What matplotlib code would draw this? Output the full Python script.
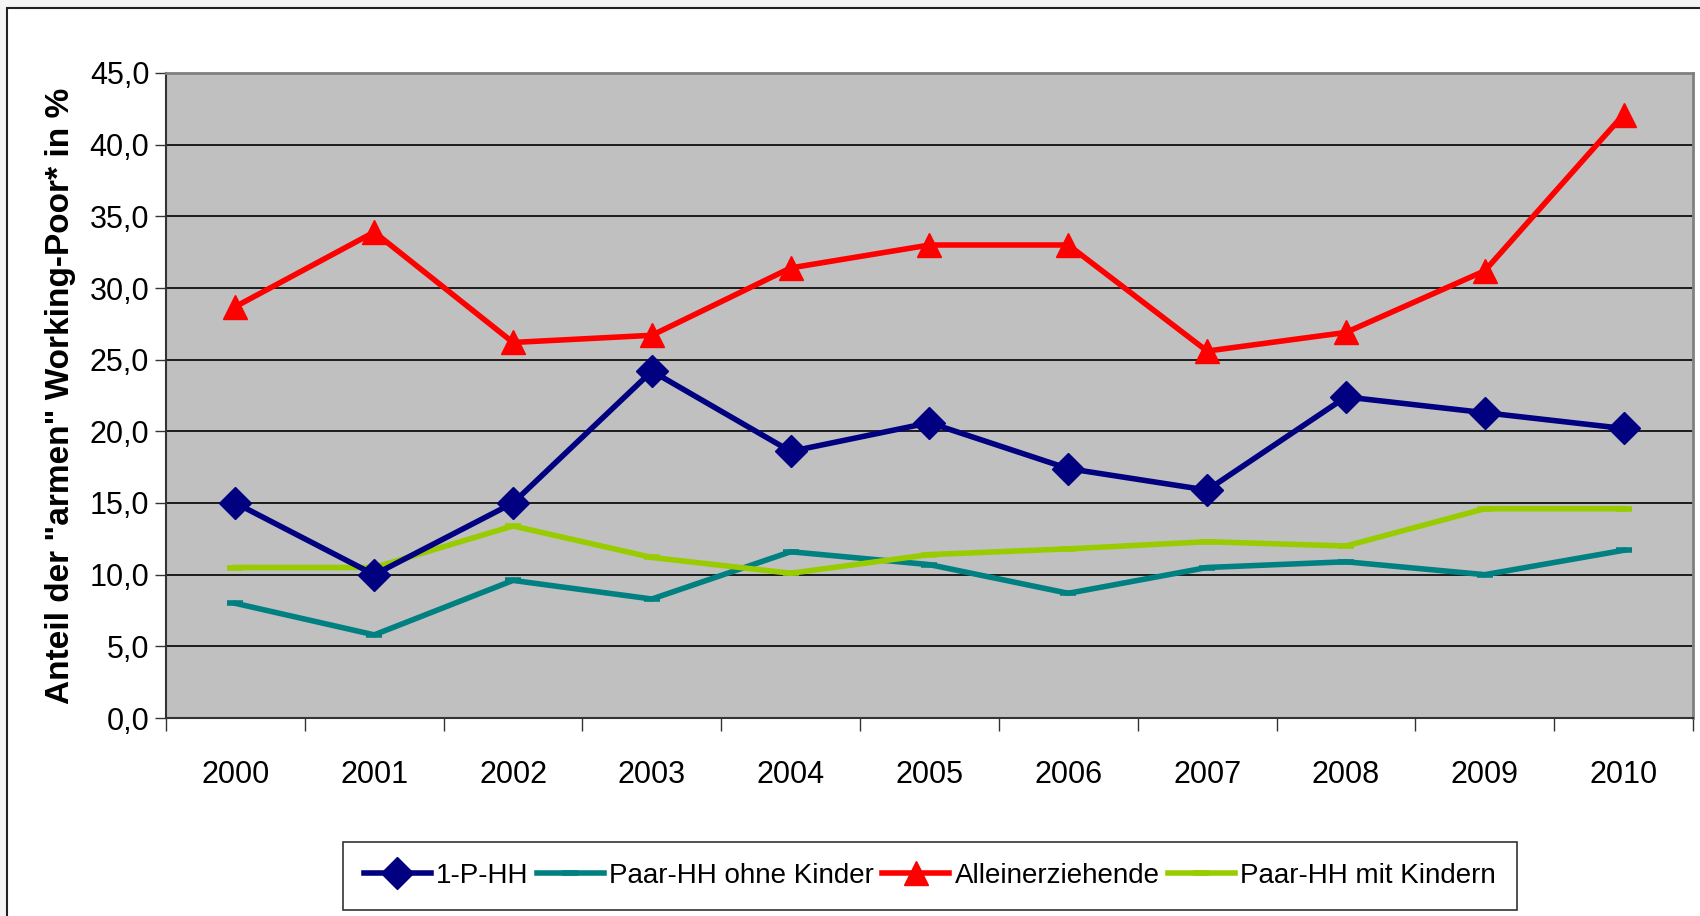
import matplotlib.pyplot as plt
from matplotlib.patches import Rectangle
import numpy as np

years = ["2000", "2001", "2002", "2003", "2004", "2005", "2006", "2007", "2008", "2009", "2010"]
ein_p_hh = [15.0, 10.0, 15.0, 24.2, 18.6, 20.6, 17.4, 15.9, 22.4, 21.3, 20.2]
paar_ohne = [8.0, 5.8, 9.6, 8.3, 11.6, 10.7, 8.7, 10.5, 10.9, 10.0, 11.7]
alleinerz = [28.7, 33.9, 26.2, 26.7, 31.4, 33.0, 33.0, 25.6, 26.9, 31.2, 42.1]
paar_mit = [10.5, 10.5, 13.4, 11.2, 10.1, 11.4, 11.8, 12.3, 12.0, 14.6, 14.6]

narrow = ["Liberation Sans Narrow", "Liberation Sans", "DejaVu Sans"]

fig = plt.figure(figsize=(17, 9.16), dpi=100)
fig.patch.set_facecolor("#f4f4f4")
# white chart area with dark frame
fig.patches.append(Rectangle((7 / 1700, -0.01), 1.0, 1 - 8 / 916 + 0.01, transform=fig.transFigure,
                             facecolor="white", edgecolor="#222222", linewidth=1.5, zorder=-1))

ax = fig.add_axes([166 / 1700, 1 - 718 / 916, (1693 - 166) / 1700, (718 - 73) / 916])
ax.set_zorder(2)
ax.set_facecolor("#c0c0c0")

x = np.arange(len(years))
ax.plot(x, ein_p_hh, color="#000080", lw=4, marker="D", ms=16, label="1-P-HH", zorder=5)
ax.plot(x, paar_ohne, color="#008080", lw=4, marker="_", ms=12, mew=4, label="Paar-HH ohne Kinder", zorder=4)
ax.plot(x, alleinerz, color="#ff0000", lw=4, marker="^", ms=17, label="Alleinerziehende", zorder=5)
ax.plot(x, paar_mit, color="#99cc00", lw=4, marker="_", ms=12, mew=4, label="Paar-HH mit Kindern", zorder=4)

ax.set_xlim(-0.5, len(years) - 0.5)
ax.set_ylim(0, 45)
ax.set_yticks(np.arange(0, 46, 5))
ax.set_yticklabels([f"{v:.1f}".replace(".", ",") for v in np.arange(0, 46, 5)], family=narrow, fontsize=22)
ax.yaxis.grid(True, color="black", lw=1.2)
ax.set_axisbelow(True)

ax.set_xticks(x)
ax.set_xticklabels(years, family=narrow, fontsize=22)
ax.tick_params(axis="x", which="major", length=0, pad=30)
ax.set_xticks(np.arange(-0.5, len(years)), minor=True)
ax.tick_params(axis="x", which="minor", length=9, width=1, color="#333333")
ax.tick_params(axis="y", length=8, width=1, color="#333333", pad=4)

for side in ["top", "right"]:
    ax.spines[side].set_color("#808080")
    ax.spines[side].set_linewidth(2)
ax.spines["left"].set_color("#333333")
ax.spines["bottom"].set_color("#333333")
ax.spines["left"].set_linewidth(1.5)
ax.spines["bottom"].set_linewidth(1.5)

ax.set_ylabel('Anteil der "armen" Working-Poor* in %', family=["Liberation Sans", "DejaVu Sans"],
              fontsize=24, fontweight="bold", labelpad=10)

leg = fig.legend(loc="center", bbox_to_anchor=(930 / 1700, 1 - 876 / 916), ncol=4, frameon=True,
                 fancybox=False, edgecolor="black", prop={"family": narrow, "size": 20},
                 handlelength=2.4, handletextpad=0.2, columnspacing=0.3, borderpad=0.75)
leg.get_frame().set_linewidth(1.2)

fig.savefig("out.png", dpi=100, facecolor=fig.get_facecolor())
